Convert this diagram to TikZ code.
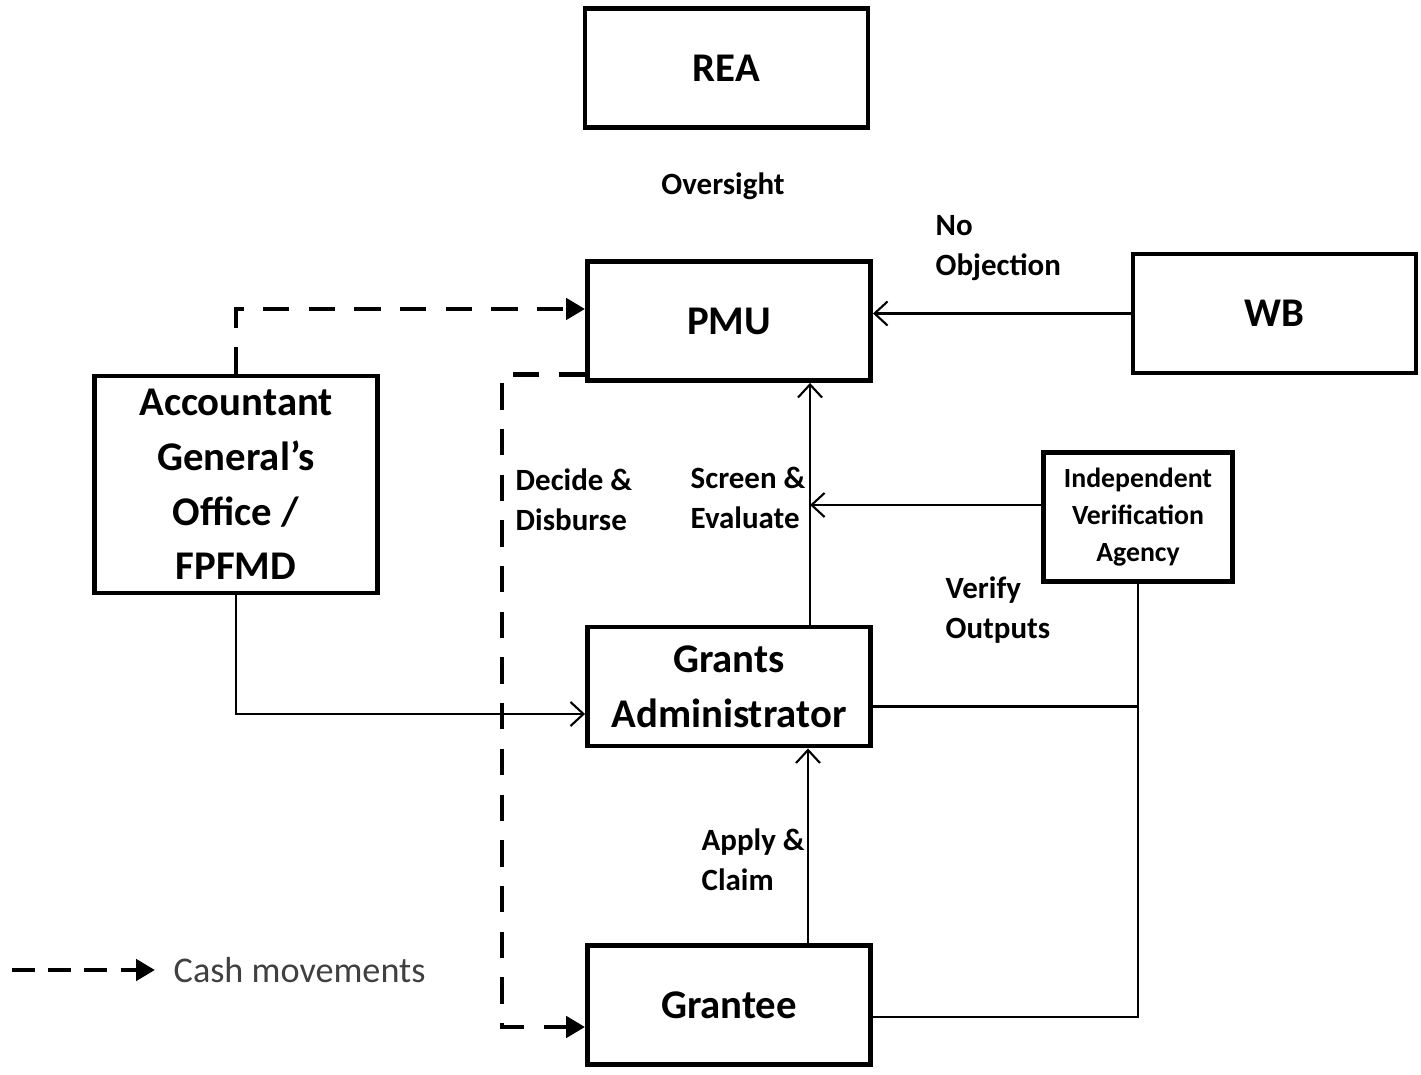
\documentclass[tikz,border=0pt]{standalone}
\usepackage{fontspec}
\setmainfont{Carlito}
\usepackage{tikz}
\usetikzlibrary{arrows.meta}
\tikzset{
  every picture/.style={line join=miter, line cap=butt},
  box/.style={draw, line width=1.4pt, minimum width=2.83cm, minimum height=1.19cm, align=center, inner sep=1pt, font=\fontsize{11.6}{15.6}\selectfont\bfseries},
  flow/.style={line width=0.6pt, -{Straight Barb[length=1.3mm,width=2.4mm]}},
  link/.style={line width=0.6pt},
  cash/.style={line width=1.4pt, dash pattern=on 7.5pt off 5.5pt, -{Triangle[length=1.9mm,width=2.1mm]}},
  note/.style={align=left, inner sep=0pt, font=\fontsize{8.8}{11.4}\selectfont\bfseries},
}

\begin{document}
\begin{tikzpicture}
\useasboundingbox (0,0) rectangle (14.21,10.74);
% boxes
\node[box] (rea) at (7.265,10.06) {REA};
\node[box] (pmu) at (7.29,7.53) {PMU};
\node[box] (wb) at (12.745,7.605) {WB};
\node[box, minimum height=2.17cm] (ago) at (2.36,5.895) {Accountant\\General’s\\Office /\\FPFMD};
\node[box, minimum width=1.89cm, minimum height=1.29cm, font=\fontsize{7.9}{10.6}\selectfont\bfseries] (iva) at (11.38,5.57) {Independent\\Verification\\Agency};
\node[box] (ga) at (7.29,3.875) {Grants\\Administrator};
\node[box] (grantee) at (7.29,0.69) {Grantee};
% labels
\node[note, anchor=center] (oversight) at (7.23,8.88) {Oversight};
\node[note, anchor=west] (noobj) at (9.35,8.26) {No\\Objection};
\node[note, anchor=west] (decide) at (5.15,5.74) {Decide \&\\Disburse};
\node[note, anchor=west] (screen) at (6.90,5.76) {Screen \&\\Evaluate};
\node[note, anchor=west] (verify) at (9.45,4.64) {Verify\\Outputs};
\node[note, anchor=west] (apply) at (7.01,2.14) {Apply \&\\Claim};
% flows
\coordinate (wbout) at (wb.west);
\draw[flow] (wbout) -- (wbout -| pmu.east);
\coordinate (gaup) at ([xshift=8.1mm]ga.north);
\draw[flow] (gaup) -- (gaup |- pmu.south);
\coordinate (ivaout) at ([yshift=1.2mm]iva.west);
\draw[flow] (ivaout) -- (ivaout -| gaup);
\draw[flow] (ago.south) |- ([yshift=-2.75mm]ga.west);
\coordinate (grup) at ([xshift=7.9mm]grantee.north);
\draw[flow] (grup) -- (grup |- ga.south);
\coordinate (gaout) at ([yshift=-2mm]ga.east);
\draw[link] (gaout) -- (gaout -| iva.south);
\draw[link] (iva.south) |- ([yshift=-1.2mm]grantee.east);
% cash movements
\draw[cash] (ago.north) |- ([yshift=1.2mm]pmu.west);
\coordinate (cashbend) at (5.02,0.47);
\draw[cash] ([yshift=0.8mm]pmu.south west) -| (cashbend) -- (cashbend -| grantee.west);
% legend
\coordinate (legstart) at (0.12,1.04);
\node[anchor=west, inner sep=0pt, text=black!75, font=\fontsize{10.3}{12}\selectfont] (legend) at (1.73,1.04) {Cash movements};
\draw[cash, dash pattern=on 6.5pt off 3.8pt] (legstart) -- ([xshift=-1.8mm]legend.west);
\end{tikzpicture}
\end{document}
